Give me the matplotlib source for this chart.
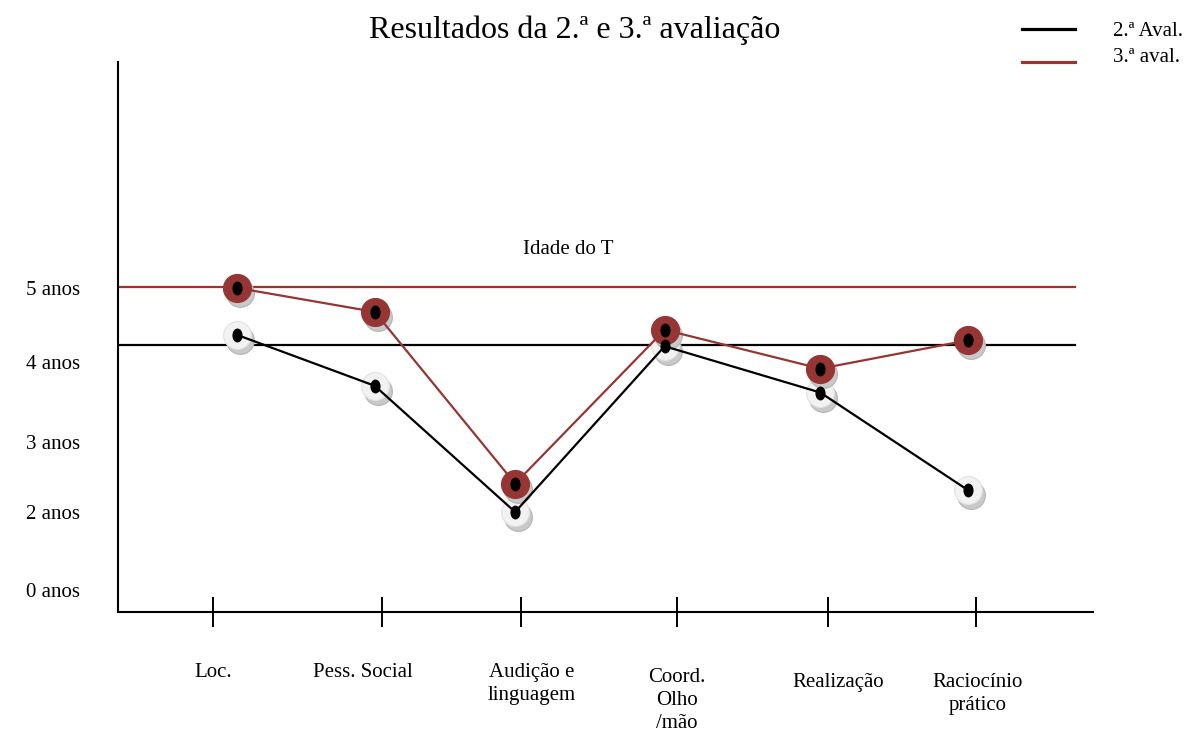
import matplotlib
matplotlib.use('Agg')
import matplotlib.pyplot as plt
from matplotlib.lines import Line2D
from matplotlib.path import Path
from matplotlib.transforms import offset_copy, Affine2D, blended_transform_factory

plt.rcParams['font.family'] = ['Liberation Serif', 'DejaVu Serif']

# dados (em anos)
categorias = ['Loc.', 'Pess. Social', 'Audição e\nlinguagem', 'Coord.\nOlho\n/mão',
              'Realização', 'Raciocínio\nprático']
aval_2 = [4.37, 3.69, 2.0, 4.22, 3.6, 2.29]
aval_3 = [5.0, 4.68, 2.38, 4.44, 3.92, 4.30]
idade_t = 5.01
linha_aval_2 = 4.24
anos_pos = [5, 4.01, 2.94, 2, 0.96]
anos_labels = ['5 anos', '4 anos', '3 anos', '2 anos', '0 anos']

# posições das categorias no eixo (desenho original não é regular)
pos_x = [0, 1.11, 2.02, 3.04, 4.03, 5.0]
desvio = [0.16, -0.05, -0.04, -0.08, -0.05, -0.05]
xm = [p + d for p, d in zip(pos_x, desvio)]
# posição dos rótulos das categorias
rot_x = [0, 0.983, 2.09, 3.04, 4.10, 5.01]
rot_topo = [663, 663, 663, 668, 673, 673]

vermelho = '#963634'

fig = plt.figure(figsize=(11.88, 7.36), dpi=100)
ax = fig.add_axes([0.0993, 0.1685, 0.8207, 0.7473])
ax.set_xlim(-0.623, 5.767)
ax.set_ylim(0.661, 8.027)

for s in ['top', 'right']:
    ax.spines[s].set_visible(False)
for s in ['left', 'bottom']:
    ax.spines[s].set_linewidth(1.5)

ax.set_xticks(pos_x, [''] * len(pos_x))
ax.tick_params(axis='x', direction='inout', length=22, width=1.4)
ax.set_yticks(anos_pos, anos_labels)
ax.tick_params(axis='y', length=0, pad=27, labelsize=15)

trans_rot = blended_transform_factory(ax.transData, fig.transFigure)
for x, topo, txt in zip(rot_x, rot_topo, categorias):
    ax.text(x, 1 - topo / 736, txt, transform=trans_rot, ha='center', va='top',
            fontsize=15, linespacing=1.3, multialignment='center')

# linhas de referência
ax.axhline(idade_t, xmin=0, xmax=0.982, color=vermelho, lw=1.6, zorder=2)
ax.axhline(linha_aval_2, xmin=0, xmax=0.982, color='black', lw=1.6, zorder=2)
ax.text(2.326, 5.52, 'Idade do T', ha='center', va='center', fontsize=15)

# marcadores com sombra
sombra = offset_copy(ax.transData, fig=fig, x=3, y=-5, units='dots')
ponto = Path.unit_circle().transformed(Affine2D().scale(0.7, 1.0))

ax.plot(xm, aval_2, 'o', ms=20, mfc='#c9c9c9', mec='#b5b5b5', mew=0.8,
        transform=sombra, zorder=3)
ax.plot(xm, aval_2, 'o', ms=20, mfc='#f2f2f2', mec='#e2e2e2', mew=0.8, zorder=3)
ax.plot(xm, aval_3, 'o', ms=20, mfc='#c9c9c9', mec='#b5b5b5', mew=0.8,
        transform=sombra, zorder=3)
ax.plot(xm, aval_3, 'o', ms=20, mfc=vermelho, mec=vermelho, zorder=3)

ax.plot(xm, aval_2, color='black', lw=1.6, zorder=4)
ax.plot(xm, aval_3, color=vermelho, lw=1.6, zorder=4)

ax.plot(xm, aval_2, ls='none', marker=ponto, ms=9, color='black', zorder=5)
ax.plot(xm, aval_3, ls='none', marker=ponto, ms=9, color='black', zorder=5)

fig.text(575 / 1188, 1 - 30 / 736, 'Resultados da 2.ª e 3.ª avaliação',
         ha='center', va='center', fontsize=23)

# legenda
fig.add_artist(Line2D([1022 / 1188, 1075 / 1188], [1 - 29 / 736] * 2,
                      color='black', lw=2.3, transform=fig.transFigure))
fig.add_artist(Line2D([1022 / 1188, 1075 / 1188], [1 - 62 / 736] * 2,
                      color=vermelho, lw=2.3, transform=fig.transFigure))
fig.text(1113 / 1188, 1 - 31 / 736, '2.ª Aval.', va='center', fontsize=15)
fig.text(1113 / 1188, 1 - 57 / 736, '3.ª aval.', va='center', fontsize=15)

fig.savefig('out.png', dpi=100)
